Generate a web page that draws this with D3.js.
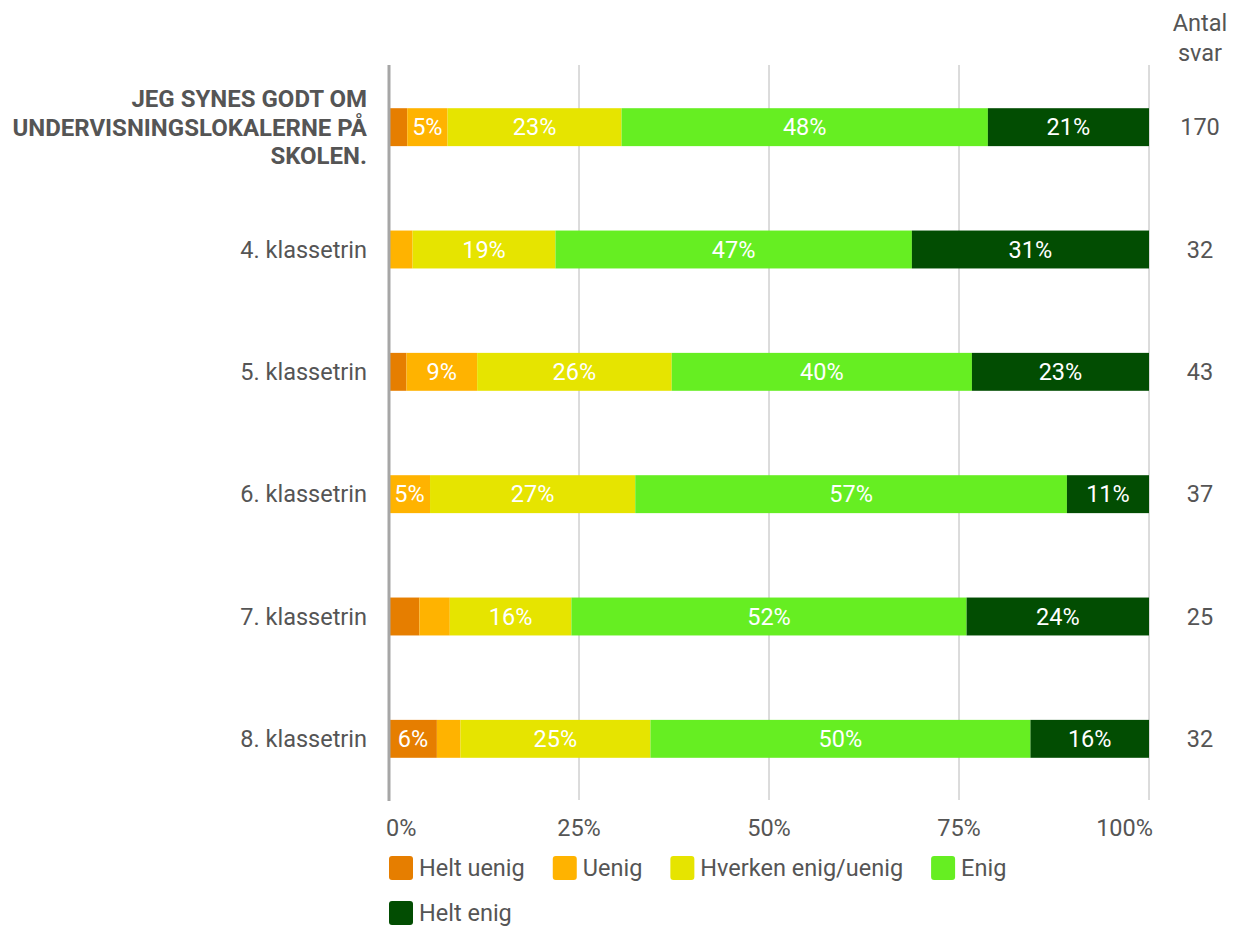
<!DOCTYPE html>
<html>
<head>
<meta charset="utf-8">
<script src="https://cdn.jsdelivr.net/npm/d3@7"></script>
<style>
  body { margin: 0; background: #fff; }
  svg { font-family: Roboto, "Noto Sans", sans-serif; }
</style>
</head>
<body>
<svg id="chart" width="1245" height="926"></svg>
<script>
// rows (first row is the whole school, shown as a bold title)
var categories = ["JEG SYNES GODT OM|UNDERVISNINGSLOKALERNE PÅ|SKOLEN.", "4. klassetrin", "5. klassetrin", "6. klassetrin", "7. klassetrin", "8. klassetrin"];
var antalSvar = [170, 32, 43, 37, 25, 32];
var seriesNames = ["Helt uenig", "Uenig", "Hverken enig/uenig", "Enig", "Helt enig"];
var seriesColors = ["#e67e00", "#ffb300", "#e6e400", "#66ee22", "#024d02"];

// percent per row
var heltUenig = [2.4, 0, 2.3, 0, 4, 6.3];
var uenig = [5.3, 3.1, 9.3, 5.4, 4, 3.1];
var hverken = [22.9, 18.8, 25.6, 27.0, 16, 25];
var enig = [48.2, 46.9, 39.5, 56.8, 52, 50];
var heltEnig = [21.2, 31.2, 23.3, 10.8, 24, 15.6];
var tickValues = [0, 25, 50, 75, 100];

var allSeries = [heltUenig, uenig, hverken, enig, heltEnig];

var table = categories.map(function(c, i){
    var row = {cat: c, n: antalSvar[i]};
    seriesNames.forEach(function(s, j){ row[s] = allSeries[j][i]; });
    return row;
});

var svg = d3.select("#chart");
var textColor = "#555555";
var fs = 23.5;

var x = d3.scaleLinear().domain([0, 100]).range([389, 1149]);
var y = d3.scaleBand().domain(categories).range([66, 800]).paddingInner(0.69).paddingOuter(0.345);

// gridlines
svg.append("g").selectAll("line")
    .data(tickValues.filter(function(d){ return d > 0; }))
    .join("line")
    .attr("x1", function(d){ return x(d); })
    .attr("x2", function(d){ return x(d); })
    .attr("y1", 65).attr("y2", 800)
    .attr("stroke", "#b8b8b8")
    .attr("stroke-width", 1);

// tick labels
svg.append("g").selectAll("text")
    .data(tickValues)
    .join("text")
    .attr("x", function(d){ return x(d); })
    .attr("y", 836)
    .attr("text-anchor", function(d){ return d == 0 ? "start" : (d == 100 ? "end" : "middle"); })
    .attr("dx", function(d){ return d == 0 ? -3 : (d == 100 ? 4 : 0); })
    .attr("font-size", fs)
    .attr("fill", textColor)
    .text(function(d){ return d + "%"; });

var stack = d3.stack().keys(seriesNames)(table);

var layer = svg.append("g").selectAll("g")
    .data(stack)
    .join("g")
    .attr("fill", function(d, i){ return seriesColors[i]; });

layer.selectAll("rect")
    .data(function(d){ return d; })
    .join("rect")
    .attr("x", function(d){ return x(d[0]); })
    .attr("width", function(d){ return x(d[1]) - x(d[0]); })
    .attr("y", function(d){ return y(d.data.cat); })
    .attr("height", y.bandwidth());

// value labels inside the bars
layer.selectAll("text")
    .data(function(d){ return d.filter(function(p){ return p[1] - p[0] >= 5; }); })
    .join("text")
    .attr("x", function(d){ return (x(d[0]) + x(d[1])) / 2; })
    .attr("y", function(d){ return y(d.data.cat) + y.bandwidth() / 2; })
    .attr("dy", "0.35em")
    .attr("text-anchor", "middle")
    .attr("font-size", fs)
    .attr("fill", "#ffffff")
    .text(function(d){ return Math.round(d[1] - d[0]) + "%"; });

// zero baseline
svg.append("line")
    .attr("x1", x(0)).attr("x2", x(0))
    .attr("y1", 65).attr("y2", 801)
    .attr("stroke", "#a6a6a6")
    .attr("stroke-width", 3);

// category labels
var catLabels = svg.append("g").selectAll("text")
    .data(categories)
    .join("text")
    .attr("x", 367)
    .attr("y", function(d){ return y(d) + y.bandwidth() / 2; })
    .attr("text-anchor", "end")
    .attr("font-size", function(d, i){ return i == 0 ? 24 : fs; })
    .attr("fill", textColor)
    .attr("font-weight", function(d, i){ return i == 0 ? "bold" : "normal"; });

catLabels.each(function(d){
    var lines = d.split("|");
    var t = d3.select(this);
    lines.forEach(function(l, k){
        t.append("tspan")
            .attr("x", 367)
            .attr("dy", k == 0 ? (0.35 - (lines.length - 1) * 1.17 / 2) + "em" : "1.17em")
            .text(l);
    });
});

// antal svar column
svg.append("text").attr("x", 1200).attr("y", 31).attr("text-anchor", "middle")
    .attr("font-size", fs).attr("fill", textColor).text("Antal");
svg.append("text").attr("x", 1200).attr("y", 61).attr("text-anchor", "middle")
    .attr("font-size", fs).attr("fill", textColor).text("svar");

svg.append("g").selectAll("text")
    .data(table)
    .join("text")
    .attr("x", 1200)
    .attr("y", function(d){ return y(d.cat) + y.bandwidth() / 2; })
    .attr("dy", "0.35em")
    .attr("text-anchor", "middle")
    .attr("font-size", fs)
    .attr("fill", textColor)
    .text(function(d){ return d.n; });

// legend, wraps at the right edge of the plot
var legend = svg.append("g");
var lx = 389, ly = 856;
seriesNames.forEach(function(s, i){
    var item = legend.append("g");
    item.append("rect")
        .attr("width", 24).attr("height", 24)
        .attr("rx", 3)
        .attr("fill", seriesColors[i]);
    var t = item.append("text")
        .attr("x", 30).attr("y", 12)
        .attr("dy", "0.35em")
        .attr("font-size", fs)
        .attr("fill", textColor)
        .text(s);
    var w = 30 + t.node().getComputedTextLength();
    if (lx + w > 1100) { lx = 389; ly += 45; }
    item.attr("transform", "translate(" + lx + "," + ly + ")");
    lx += w + 28;
});
</script>
</body>
</html>
